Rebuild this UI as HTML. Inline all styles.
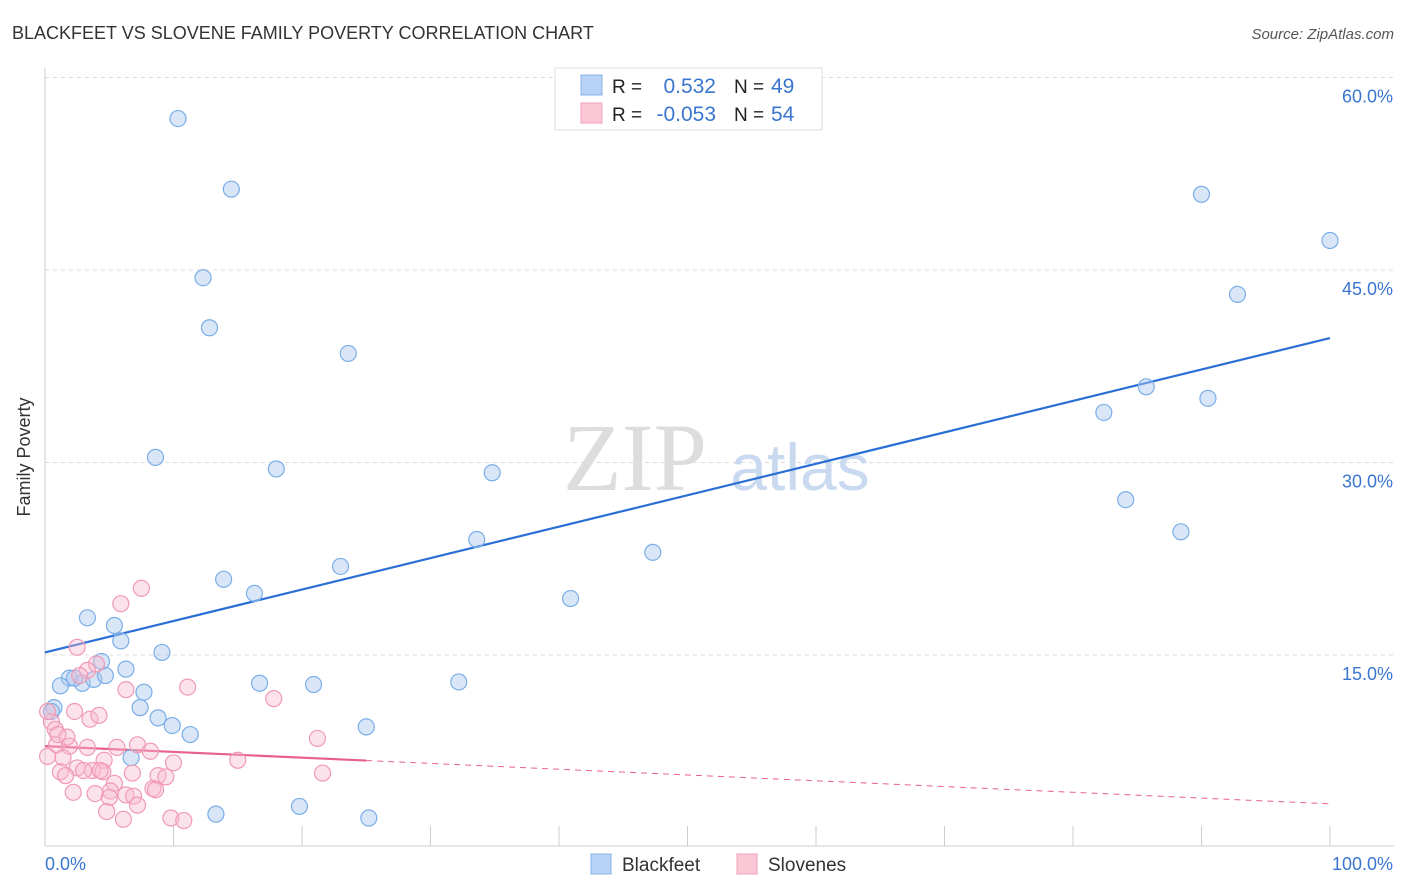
<!DOCTYPE html>
<html><head><meta charset="utf-8"><style>
body{margin:0;background:#fff;font-family:"Liberation Sans",sans-serif;}
svg{display:block}
</style></head><body>
<svg id="chart" width="1406" height="892" xmlns="http://www.w3.org/2000/svg">
<text x="12" y="39" font-size="18" fill="#333">BLACKFEET VS SLOVENE FAMILY POVERTY CORRELATION CHART</text>
<text x="1394" y="39" font-size="15" fill="#555" font-style="italic" text-anchor="end">Source: ZipAtlas.com</text>
<text x="30" y="457" font-size="18" fill="#333" text-anchor="middle" transform="rotate(-90 30 457)">Family Poverty</text>
<g id="grid"></g>
<g id="axes"></g>
<g><text x="635" y="490" font-size="96" font-family="Liberation Serif,serif" fill="#ddd" text-anchor="middle">ZIP</text><text x="800" y="490" font-size="66" fill="#c9daf0" text-anchor="middle">atlas</text></g>
<g id="trends"></g>
<g id="points"></g>
<g>
<rect x="555" y="68" width="267" height="62" fill="#fff" stroke="#ddd"/>
<rect x="581" y="75" width="21" height="20" fill="#b8d3f5" stroke="#88b2e8"/>
<rect x="581" y="103" width="21" height="20" fill="#fbc7d6" stroke="#f0a0b8"/>
<text x="612" y="93" font-size="19" fill="#222">R =</text><text x="716" y="93" font-size="21" fill="#3a76d0" text-anchor="end">0.532</text>
<text x="734" y="93" font-size="19" fill="#222">N =</text><text x="771" y="93" font-size="21" fill="#3a76d0">49</text>
<text x="612" y="121" font-size="19" fill="#222">R =</text><text x="716" y="121" font-size="21" fill="#3a76d0" text-anchor="end">-0.053</text>
<text x="734" y="121" font-size="19" fill="#222">N =</text><text x="771" y="121" font-size="21" fill="#3a76d0">54</text>
</g>
<g>
<rect x="591" y="854" width="20" height="20" fill="#b8d3f5" stroke="#88b2e8"/><text x="622" y="871" font-size="19" fill="#333">Blackfeet</text>
<rect x="737" y="854" width="20" height="20" fill="#fbc7d6" stroke="#f0a0b8"/><text x="768" y="871" font-size="19" fill="#333">Slovenes</text>
</g>
</svg>
<script>
const yTicks=[15,30,45,60];
const yTickLabels=["15.0%","30.0%","45.0%","60.0%"];
const xTicks=[0,10,20,30,40,50,60,70,80,90,100];
const blackfeetX=[10.35,14.5,12.3,12.8,23.6,8.6,18.0,34.8,33.6,47.3,13.9,16.3,23.0,40.9,3.3,5.4,5.9,9.1,4.4,6.3,1.9,1.2,2.9,3.8,4.7,7.7,16.7,20.9,32.2,7.4,0.7,0.5,8.8,9.9,11.3,25.0,6.7,13.3,19.8,25.2,90.0,100,92.8,85.7,82.4,90.5,84.1,88.4,2.3];
const blackfeetY=[56.8,51.3,44.4,40.5,38.5,30.4,29.5,29.2,24.0,23.0,20.9,19.8,21.9,19.4,17.9,17.3,16.1,15.2,14.5,13.9,13.2,12.6,12.8,13.1,13.4,12.1,12.8,12.7,12.9,10.9,10.9,10.6,10.1,9.5,8.8,9.4,7.0,2.6,3.2,2.3,50.9,47.3,43.1,35.9,33.9,35.0,27.1,24.6,13.2];
const slovenesX=[7.5,5.9,2.5,4.0,3.3,2.7,6.3,11.1,17.8,3.5,4.2,2.3,0.5,0.8,21.2,0.9,1.9,3.3,5.6,7.2,8.2,15.0,4.6,1.4,10.0,2.5,3.7,4.5,1.2,4.3,8.8,9.4,21.6,5.4,2.2,3.9,5.1,6.3,6.9,8.4,8.6,5.0,7.2,4.8,6.1,9.8,10.8,1.6,0.2,1.7,3.0,0.2,1.0,6.8];
const slovenesY=[20.2,19.0,15.6,14.3,13.8,13.4,12.3,12.5,11.6,10.0,10.3,10.6,9.8,9.2,8.5,8.0,7.9,7.8,7.8,8.0,7.5,6.8,6.8,7.0,6.6,6.2,6.0,5.9,5.9,6.0,5.6,5.5,5.8,5.0,4.3,4.2,4.4,4.1,4.0,4.6,4.5,3.9,3.3,2.8,2.2,2.3,2.1,5.6,10.6,8.6,6.0,7.1,8.8,5.8];
const blueTrend=[15.2,39.7];
const pinkTrend=[7.9,3.4];
const pinkSolidEnd=25;
const X=v=>45+v*12.85, Y=v=>847.5-v*12.833;
const NS="http://www.w3.org/2000/svg";
function mk(parent,tag,attrs){const e=document.createElementNS(NS,tag);for(const k in attrs)e.setAttribute(k,attrs[k]);document.getElementById(parent).appendChild(e);return e;}
yTicks.forEach((t,i)=>{
 const l=mk('grid','line',{x1:45,x2:1394,y1:Y(t),y2:Y(t),stroke:'#ddd','stroke-dasharray':'4 4'});
 
 
 const tx=mk('grid','text',{x:1393,y:Y(t)+25,'font-size':18,fill:'#3a76d0','text-anchor':'end'});
 tx.textContent=yTickLabels[i];
 
 
});
mk('axes','line',{x1:45,x2:45,y1:68,y2:846,stroke:'#ccc'});
mk('axes','line',{x1:45,x2:1394,y1:846,y2:846,stroke:'#ccc'});
xTicks.forEach(t=>{const l=mk('axes','line',{x1:X(t),x2:X(t),y1:826,y2:846,stroke:'#ccc'});
 
 });
let a=mk('axes','text',{x:45,y:870,'font-size':18,fill:'#3a76d0'});a.textContent='0.0%';


a=mk('axes','text',{x:1393,y:870,'font-size':18,fill:'#3a76d0','text-anchor':'end'});a.textContent='100.0%';


blackfeetX.forEach((v,i)=>{const c=mk('points','circle',{cx:X(v),cy:Y(blackfeetY[i]),r:8,fill:'rgba(170,200,240,0.45)',stroke:'#7aaee8','stroke-width':1.2});
 
 });
slovenesX.forEach((v,i)=>{const c=mk('points','circle',{cx:X(v),cy:Y(slovenesY[i]),r:8,fill:'rgba(248,185,205,0.4)',stroke:'#f09ab5','stroke-width':1.2});
 
 });
let t=mk('trends','line',{x1:X(0),y1:Y(blueTrend[0]),x2:X(100),y2:Y(blueTrend[1]),stroke:'#2a6fd6','stroke-width':2.2});


const py=v=>pinkTrend[0]+(pinkTrend[1]-pinkTrend[0])*v/100;
t=mk('trends','line',{x1:X(0),y1:Y(py(0)),x2:X(pinkSolidEnd),y2:Y(py(pinkSolidEnd)),stroke:'#e8608a','stroke-width':2.2});


t=mk('trends','line',{x1:X(pinkSolidEnd),y1:Y(py(pinkSolidEnd)),x2:X(100),y2:Y(py(100)),stroke:'#e8608a','stroke-width':1,'stroke-dasharray':'6 5'});


</script>
</body></html>
